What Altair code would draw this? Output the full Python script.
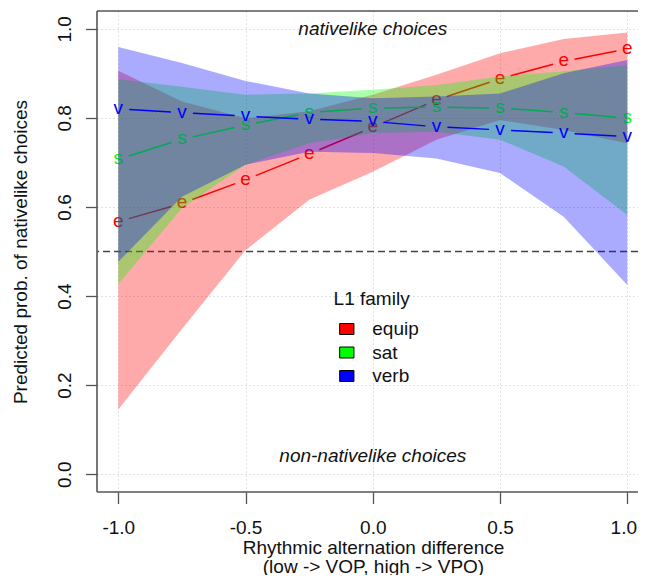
import altair as alt
import pandas as pd
import numpy as np

# ---------------- data ----------------
x_vals = [-1.0, -0.75, -0.5, -0.25, 0.0, 0.25, 0.5, 0.75, 1.0]
families = ["equip", "sat", "verb"]
letters = ["e", "s", "v"]
colors = ["#FF0000", "#00FF00", "#0000FF"]

equip_fit = [0.567, 0.608, 0.661, 0.719, 0.779, 0.840, 0.888, 0.927, 0.955]
equip_lo = [0.145, 0.326, 0.503, 0.616, 0.679, 0.751, 0.795, 0.773, 0.743]
equip_hi = [0.906, 0.837, 0.799, 0.815, 0.852, 0.897, 0.945, 0.977, 0.992]

sat_fit = [0.707, 0.752, 0.784, 0.812, 0.822, 0.824, 0.822, 0.812, 0.799]
sat_lo = [0.427, 0.597, 0.695, 0.743, 0.766, 0.769, 0.751, 0.691, 0.582]
sat_hi = [0.887, 0.870, 0.852, 0.855, 0.863, 0.874, 0.893, 0.905, 0.919]

verb_fit = [0.820, 0.812, 0.804, 0.797, 0.792, 0.780, 0.773, 0.766, 0.758]
verb_lo = [0.477, 0.623, 0.695, 0.724, 0.721, 0.709, 0.676, 0.578, 0.425]
verb_hi = [0.959, 0.923, 0.883, 0.855, 0.844, 0.848, 0.855, 0.900, 0.930]

x_ticks = [-1.0, -0.5, 0.0, 0.5, 1.0]
y_ticks = [0.0, 0.2, 0.4, 0.6, 0.8, 1.0]
chance_level = 0.5
annotations = ["nativelike choices", "non-nativelike choices"]
annotation_y = [1.0, 0.04]

fits = [equip_fit, sat_fit, verb_fit]
los = [equip_lo, sat_lo, verb_lo]
his = [equip_hi, sat_hi, verb_hi]

# ---------------- layout ----------------
FONT = "Liberation Sans"
FS = 19
PX_PER_X = 254.5
W, H = 541, 481
X_DOMAIN = [-1.0837, -1.0837 + W / PX_PER_X]
Y_DOMAIN = [-0.04, 1.04]
GAP = 11  # px gap around the point letters (R type = "b")

sx = W / (X_DOMAIN[1] - X_DOMAIN[0])
sy = H / (Y_DOMAIN[1] - Y_DOMAIN[0])

xscale = alt.Scale(domain=X_DOMAIN, nice=False, zero=False)
yscale = alt.Scale(domain=Y_DOMAIN, nice=False, zero=False)

xaxis = alt.Axis(
    values=x_ticks,
    labelExpr="(datum.value < 0 ? '-' : '') + format(abs(datum.value), '.1f')",
    labelOffset={"condition": {"test": "datum.value >= 1", "value": -4}, "value": 0},
    grid=True, gridDash=[1, 3], gridColor="#c4c4c4", gridWidth=1,
    domain=False, ticks=True, tickSize=11.5, tickColor="#555", tickWidth=1.3,
    labelFont=FONT, labelFontSize=FS, labelColor="#111", labelPadding=15,
    labelFlush=False, labelOverlap=False, labelBound=False,
    title=["Rhythmic alternation difference", "(low -> VOP, high -> VPO)"],
    titleFont=FONT, titleFontSize=FS, titleFontWeight="normal", titleColor="#111",
    titleX=276, titleY=46, titleAlign="center", titleBaseline="top",
    titleLineHeight=19,
)
yaxis = alt.Axis(
    values=y_ticks, format=".1f",
    grid=True, gridDash=[1, 3], gridColor="#c4c4c4", gridWidth=1,
    domain=False, ticks=True, tickSize=11.5, tickColor="#555", tickWidth=1.3,
    labelFont=FONT, labelFontSize=FS, labelColor="#111", labelPadding=11,
    labelAngle=270, labelAlign="center", labelBaseline="bottom",
    labelFlush=False, labelOverlap=False,
    title="Predicted prob. of nativelike choices",
    titleFont=FONT, titleFontSize=FS, titleFontWeight="normal", titleColor="#111",
    titleAngle=270, titleX=-67, titleY=240.5, titleAlign="center",
    titleBaseline="bottom",
)

legend = alt.Legend(
    orient="none", legendX=236.6, legendY=279, padding=0,
    title="L1 family", titleFont=FONT, titleFontSize=FS,
    titleFontWeight="normal", titleColor="#111", titlePadding=10.5,
    labelFont=FONT, labelFontSize=FS, labelColor="#111", labelOffset=16,
    symbolType="M-1,-0.77L1,-0.77L1,0.77L-1,0.77Z", symbolSize=204,
    symbolStrokeColor="black", symbolStrokeWidth=1, symbolOpacity=1,
    symbolOffset=3.7, rowPadding=3.5,
)
color_enc = alt.Color(
    "family:N", scale=alt.Scale(domain=families, range=colors), legend=legend
)


def X(field="x"):
    return alt.X(f"{field}:Q", scale=xscale, axis=xaxis)


def Y(field="y"):
    return alt.Y(f"{field}:Q", scale=yscale, axis=yaxis)


# ---------------- build layers ----------------
layers = []

# dashed 50% line (under the bands)
rule_df = pd.DataFrame({"y": [chance_level]})
layers.append(
    alt.Chart(rule_df).mark_rule(color="#444", strokeDash=[7, 4], strokeWidth=1.5)
    .encode(y=Y("y"))
)

for fam, let, col, fit, lo, hi in zip(families, letters, colors, fits, los, his):
    band = pd.DataFrame({"x": x_vals, "lo": lo, "hi": hi, "family": fam})
    layers.append(
        alt.Chart(band).mark_area(fillOpacity=0.333, strokeWidth=0)
        .encode(x=X("x"), y=Y("lo"), y2="hi:Q", color=color_enc)
    )

    # line segments shortened around the letters (as in R type = "b")
    px = (np.array(x_vals) - X_DOMAIN[0]) * sx
    py = (Y_DOMAIN[1] - np.array(fit)) * sy
    rows = []
    for i in range(len(x_vals) - 1):
        dx, dy = px[i + 1] - px[i], py[i + 1] - py[i]
        L = np.hypot(dx, dy)
        if L <= 2 * GAP:
            continue
        ux, uy = dx / L, dy / L
        ax, ay = px[i] + GAP * ux, py[i] + GAP * uy
        bx, by = px[i + 1] - GAP * ux, py[i + 1] - GAP * uy
        rows.append({
            "x": X_DOMAIN[0] + ax / sx, "y": Y_DOMAIN[1] - ay / sy,
            "x2": X_DOMAIN[0] + bx / sx, "y2": Y_DOMAIN[1] - by / sy,
        })
    seg = pd.DataFrame(rows)
    layers.append(
        alt.Chart(seg).mark_rule(color=col, strokeWidth=1.5)
        .encode(x=X("x"), y=Y("y"), x2="x2:Q", y2="y2:Q")
    )

    pts = pd.DataFrame({"x": x_vals, "y": fit, "letter": let})
    layers.append(
        alt.Chart(pts).mark_text(font=FONT, fontSize=FS, color=col, dy=-1,
                                 align="center", baseline="middle")
        .encode(x=X("x"), y=Y("y"), text="letter:N")
    )

ann = pd.DataFrame({"x": [0.0, 0.0], "y": annotation_y, "label": annotations})
layers.append(
    alt.Chart(ann).mark_text(font=FONT, fontSize=FS, fontStyle="italic",
                             color="#111", align="center", baseline="middle")
    .encode(x=X("x"), y=Y("y"), text="label:N")
)

# plot frame: left, top and bottom edges (the right edge lies beyond the page)
frame = pd.DataFrame({
    "x": [X_DOMAIN[0], X_DOMAIN[0], X_DOMAIN[0]],
    "y": [Y_DOMAIN[0], Y_DOMAIN[1], Y_DOMAIN[0]],
    "x2": [X_DOMAIN[0], X_DOMAIN[1], X_DOMAIN[1]],
    "y2": [Y_DOMAIN[1], Y_DOMAIN[1], Y_DOMAIN[0]],
})
layers.append(
    alt.Chart(frame).mark_rule(color="#555", strokeWidth=1.6)
    .encode(x=X("x"), y=Y("y"), x2="x2:Q", y2="y2:Q")
)

chart = (
    alt.layer(*layers)
    .properties(
        width=W, height=H,
        autosize=alt.AutoSizeParams(type="none"),
        padding={"left": 89, "top": 3, "right": 0, "bottom": 83},
        background="white",
    )
    .configure_view(stroke=None)
)

chart.save("out.html", embed_options={"renderer": "svg", "actions": False})
